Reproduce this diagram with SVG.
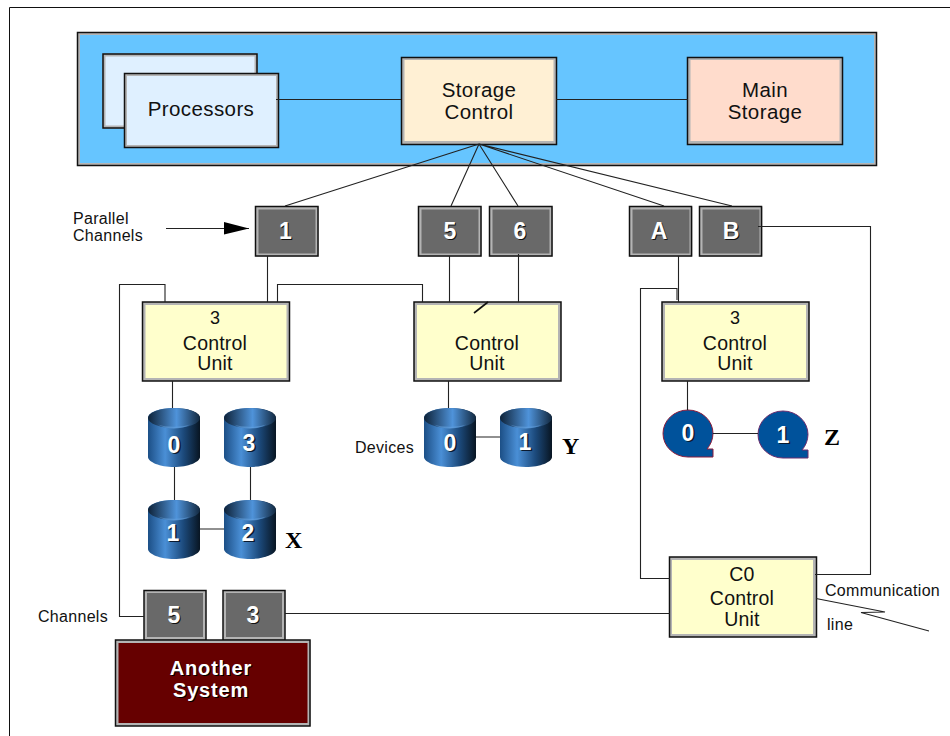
<svg xmlns="http://www.w3.org/2000/svg" xmlns:xlink="http://www.w3.org/1999/xlink" width="950" height="736" viewBox="0 0 950 736">
<style>
text{font-family:"Liberation Sans",Arial,sans-serif;text-anchor:middle;fill:#111}
.o{fill:none;stroke:#111;stroke-width:1.5}
.i{stroke:#b4b4b4;stroke-width:3}
.l{fill:none;stroke:#222;stroke-width:1.1}
.big{font-size:20.500px;letter-spacing:.4px}
.cu{font-size:19.500px;letter-spacing:.2px}
.num{font-size:18px}
.small{font-size:16px;letter-spacing:.3px;text-anchor:start}
.ch{font-size:23px;font-weight:bold;fill:#fff}
.sh{font-size:23px;font-weight:bold;fill:#111}
.d{font-size:23px;font-weight:bold;fill:#fff}
.ds{font-size:23px;font-weight:bold;fill:#0a1a30}
.ser{font-family:"Liberation Serif",serif;font-size:24px;font-weight:bold;text-anchor:start;fill:#000}
.sys{font-size:20px;font-weight:bold;letter-spacing:.8px;fill:#fff}
.syss{font-size:20px;font-weight:bold;letter-spacing:.8px;fill:#000}
</style>
<defs>
<linearGradient id="cyl"><stop offset="0" stop-color="#1c4f86"/><stop offset=".33" stop-color="#4a8fd6"/><stop offset=".68" stop-color="#1c4a7c"/><stop offset="1" stop-color="#081522"/></linearGradient>
<linearGradient id="cylTop"><stop offset="0" stop-color="#0e2238"/><stop offset=".55" stop-color="#4f93da"/><stop offset="1" stop-color="#12283f"/></linearGradient>
<g id="disk">
<path d="M0 10 C0 4 12 0 26 0 S52 4 52 10 V49 C52 54 40 59 26 59 S0 54 0 49Z" fill="url(#cyl)"/>
<ellipse cx="26" cy="10" rx="26" ry="10" fill="url(#cylTop)"/>
<path d="M10 16.500C18 19.500 34 19.500 42 16.500C34 22 18 22 10 16.500Z" fill="#6aa8e6" opacity=".5"/>
</g>
<marker id="ah" markerUnits="userSpaceOnUse" markerWidth="26" markerHeight="14" refX="25" refY="6.5" orient="auto"><path d="M0 0L25 6.5L0 12.5Z" fill="#000"/></marker>
</defs>

<path id="frame" d="M950 7.5H9.5V736" fill="none" stroke="#111" stroke-width="1"/>

<g id="host"><rect x="78.500" y="33.500" width="797" height="131" fill="#66c5ff" class="i"/><rect x="77.500" y="32.500" width="799" height="133" class="o"/></g>

<g id="processors-back"><rect x="104" y="55" width="152" height="72" fill="#dff0ff" class="i"/><rect x="103" y="54" width="154" height="74" class="o"/></g>
<g id="processors"><rect x="125.500" y="74.500" width="152" height="72" fill="#dff0ff" class="i"/><rect x="124.500" y="73.500" width="154" height="74" class="o"/><text class="big" x="201" y="115.500">Processors</text></g>
<g id="storage-control"><rect x="403" y="58.500" width="152" height="84" fill="#fff0d4" class="i"/><rect x="401.500" y="57.500" width="155" height="87" class="o"/><text class="big" x="479" y="96.500">Storage</text><text class="big" x="479" y="118.500">Control</text></g>
<g id="main-storage"><rect x="689" y="58.500" width="152" height="84" fill="#ffdccc" class="i"/><rect x="687.500" y="57.500" width="155" height="87" class="o"/><text class="big" x="765" y="96.500">Main</text><text class="big" x="765" y="118.500">Storage</text></g>

<g id="ch1"><rect x="257" y="208" width="60" height="47" fill="#696969" class="i"/><rect x="255.500" y="206.500" width="62.500" height="49.500" class="o"/><text class="sh" x="286.500" y="240">1</text><text class="ch" x="285.500" y="239">1</text></g>
<g id="ch5"><rect x="420" y="208" width="60" height="47" fill="#696969" class="i"/><rect x="418.500" y="206.500" width="62.500" height="49.500" class="o"/><text class="sh" x="451" y="240">5</text><text class="ch" x="450" y="239">5</text></g>
<g id="ch6"><rect x="491" y="208" width="60" height="47" fill="#696969" class="i"/><rect x="489.500" y="206.500" width="62.500" height="49.500" class="o"/><text class="sh" x="521" y="240">6</text><text class="ch" x="520" y="239">6</text></g>
<g id="chA"><rect x="631" y="208" width="60" height="47" fill="#696969" class="i"/><rect x="629.500" y="206.500" width="62" height="49.500" class="o"/><text class="sh" x="660" y="240">A</text><text class="ch" x="659" y="239">A</text></g>
<g id="chB"><rect x="701" y="208" width="60" height="47" fill="#696969" class="i"/><rect x="699.500" y="206.500" width="62" height="49.500" class="o"/><text class="sh" x="732" y="240">B</text><text class="ch" x="731" y="239">B</text></g>

<g id="label-parallel"><text class="small" x="73" y="224">Parallel</text><text class="small" x="73" y="241">Channels</text></g>

<g id="cu1"><rect x="144" y="303.500" width="144" height="76" fill="#ffffcc" class="i"/><rect x="142.500" y="302" width="147" height="79" class="o"/><text class="num" x="215" y="324">3</text><text class="cu" x="215" y="350">Control</text><text class="cu" x="215" y="370">Unit</text></g>
<g id="cu2"><rect x="415.500" y="303.500" width="144" height="76" fill="#ffffcc" class="i"/><rect x="414" y="302" width="147" height="79" class="o"/><text class="cu" x="487" y="350">Control</text><text class="cu" x="487" y="370">Unit</text></g>
<g id="cu3"><rect x="663.500" y="303.500" width="144" height="76" fill="#ffffcc" class="i"/><rect x="662" y="302" width="147" height="79" class="o"/><text class="num" x="735" y="324">3</text><text class="cu" x="735" y="350">Control</text><text class="cu" x="735" y="370">Unit</text></g>
<g id="cu4"><rect x="670.500" y="558.500" width="144" height="77" fill="#ffffcc" class="i"/><rect x="669.500" y="557" width="147" height="80" class="o"/><text class="cu" x="742" y="581">C0</text><text class="cu" x="742" y="605">Control</text><text class="cu" x="742" y="626">Unit</text></g>

<g id="disk-x0"><use xlink:href="#disk" x="148" y="408"/><text class="ds" x="175.500" y="454">0</text><text class="d" x="174" y="453">0</text></g>
<g id="disk-x3"><use xlink:href="#disk" x="224" y="408"/><text class="ds" x="250.500" y="452">3</text><text class="d" x="249" y="451">3</text></g>
<g id="disk-x1"><use xlink:href="#disk" x="148" y="500"/><text class="ds" x="174.500" y="542">1</text><text class="d" x="173" y="541">1</text></g>
<g id="disk-x2"><use xlink:href="#disk" x="224" y="500"/><text class="ds" x="249.500" y="542">2</text><text class="d" x="248" y="541">2</text></g>
<g id="disk-y0"><use xlink:href="#disk" x="424" y="408"/><text class="ds" x="451.500" y="452">0</text><text class="d" x="450" y="451">0</text></g>
<g id="disk-y1"><use xlink:href="#disk" x="500" y="408"/><text class="ds" x="526.500" y="451">1</text><text class="d" x="525" y="450">1</text></g>

<g id="tape-0"><path d="M688 410A25 23.500 0 0 1 713 433.500A25 25 0 0 1 707 449H713V457H688A25 23.500 0 0 1 663 433.500A25 23.500 0 0 1 688 410Z" fill="#00529b" stroke="#8c1d3c" stroke-width="1"/><text class="ds" x="689.500" y="442">0</text><text class="d" x="688" y="441">0</text></g>
<g id="tape-1"><path d="M783 411A25 23.500 0 0 1 808 434.500A25 25 0 0 1 802 450H808V458H783A25 23.500 0 0 1 758 434.500A25 23.500 0 0 1 783 411Z" fill="#00529b" stroke="#6b2d6e" stroke-width="1"/><text class="ds" x="784.500" y="444">1</text><text class="d" x="783" y="443">1</text></g>

<g id="labels">
<text class="ser" x="285" y="548">X</text>
<text class="ser" x="562" y="454">Y</text>
<text class="ser" x="824" y="445">Z</text>
<text class="small" x="355" y="453">Devices</text>
<text class="small" x="38" y="622">Channels</text>
<text class="small" x="825" y="596">Communication</text>
<text class="small" x="827" y="630">line</text>
</g>

<g id="ch-s5"><rect x="145.500" y="591.500" width="59" height="47" fill="#696969" class="i"/><rect x="144" y="590.500" width="62" height="50" class="o"/><text class="sh" x="175" y="624">5</text><text class="ch" x="174" y="623">5</text></g>
<g id="ch-s3"><rect x="224.500" y="591.500" width="59" height="47" fill="#696969" class="i"/><rect x="223" y="590.500" width="62" height="50" class="o"/><text class="sh" x="254" y="624">3</text><text class="ch" x="253" y="623">3</text></g>
<g id="another-system"><rect x="117" y="641.500" width="192" height="83" fill="#660000" class="i"/><rect x="115.500" y="640" width="194.500" height="86" class="o"/><text class="syss" x="212" y="676">Another</text><text class="sys" x="211" y="675">Another</text><text class="syss" x="212" y="698">System</text><text class="sys" x="211" y="697">System</text></g>

<g id="connectors">
<path class="l" d="M276 99.500H401M556 99.500H688"/>
<path class="l" d="M479 144L285 206M479 144L451 206M479 144L518 206M479 144L664 206M479 144L732 206"/>
<path class="l" d="M166 228.500H249" marker-end="url(#ah)"/>
<path class="l" d="M267.500 256V302M449.500 256V302M518.500 254V302M678.500 256V302"/>
<path class="l" d="M165 302V284.500H119.500V616.500H144"/>
<path class="l" d="M277.500 302V284.500H422.500V302"/>
<path class="l" d="M677 300V288.500H640.500V578.500H670"/>
<path class="l" d="M758 226.500H870.500V574.500H815"/>
<path class="l" d="M285 613.500H670"/>
<path class="l" d="M816 598.500L885 612L861 612.500L929 631"/>
<path d="M474 313L488 302" fill="none" stroke="#111" stroke-width="1.600"/>
<path class="l" d="M172.500 381V408M174.500 467V500M250.500 467V500M200 529H224M448.500 381V408M476 437H500M687.500 381V410M713 433.500H758"/>
</g>
</svg>
